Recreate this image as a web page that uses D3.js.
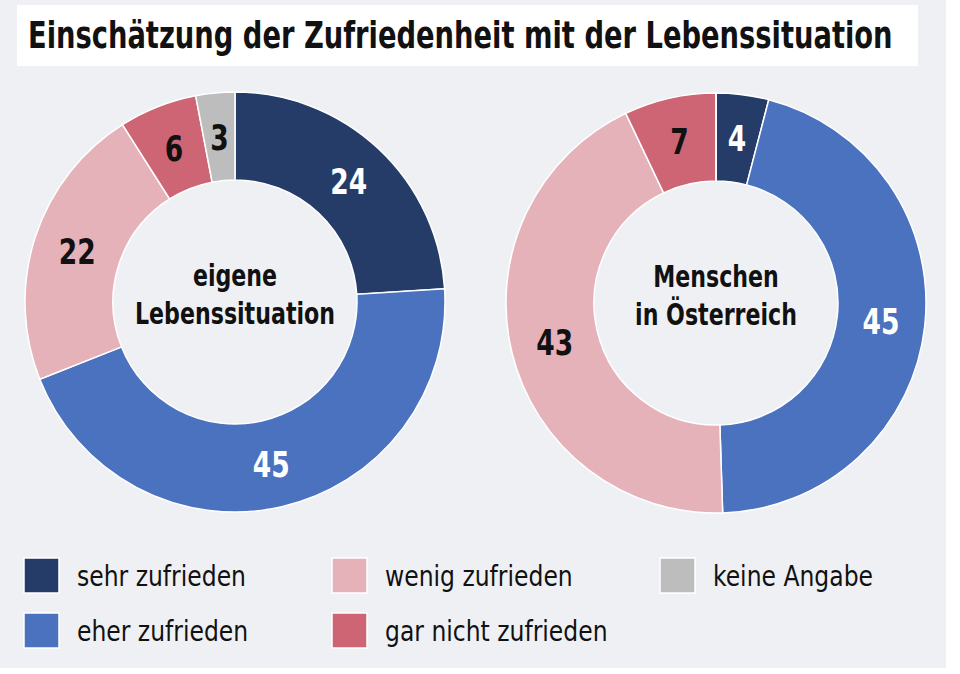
<!DOCTYPE html>
<html>
<head>
<meta charset="utf-8">
<script src="https://cdn.jsdelivr.net/npm/d3@7"></script>
<style>
  body { margin: 0; background: #ffffff; }
  svg { display: block; }
  text { font-family: "DejaVu Sans Condensed", "Liberation Sans Narrow", "Roboto", sans-serif; }
</style>
</head>
<body>
<svg id="chart" width="960" height="674"></svg>
<script>
// Categories (legend order = slice order, clockwise from top)
var categories = ['sehr zufrieden', 'eher zufrieden', 'wenig zufrieden', 'gar nicht zufrieden', 'keine Angabe'];
var colors = ['#263c68', '#4a72bf', '#e6b2ba', '#cd6575', '#bdbdbd'];
var labelColors = ['#ffffff', '#ffffff', '#111111', '#111111', '#111111'];

// Values in percent
var ownValues = [24, 45, 22, 6, 3];
var austriaValues = [4, 45, 43, 7, 0];

var donutTitles = [['eigene', 'Lebenssituation'], ['Menschen', 'in Österreich']];
var title = 'Einschätzung der Zufriedenheit mit der Lebenssituation';

var svg = d3.select('#chart');

// background
svg.append('rect')
  .attr('x', 0).attr('y', 0)
  .attr('width', 946).attr('height', 668)
  .attr('fill', '#eff0f4');

// title box
svg.append('rect')
  .attr('x', 17).attr('y', 5)
  .attr('width', 901).attr('height', 61)
  .attr('fill', '#ffffff');

// the reference uses a narrow typeface, so the title is squeezed to its width
var titleG = svg.append('g');
var titleText = titleG.append('text')
  .attr('font-size', 38)
  .attr('font-weight', 'bold')
  .attr('fill', '#111')
  .text(title);
var titleScale = 865 / titleText.node().getComputedTextLength();
titleG.attr('transform', 'translate(28,48) scale(' + titleScale + ',1)');

var colorScale = d3.scaleOrdinal().domain(categories).range(colors);
var labelScale = d3.scaleOrdinal().domain(categories).range(labelColors);

var pie = d3.pie().sort(null).value(function(d) { return d.value; });
var outerR = 210, innerR = 122;
var arc = d3.arc().innerRadius(innerR).outerRadius(outerR);
var labelArc = d3.arc().innerRadius(166).outerRadius(166);

function drawDonut(values, cx, cy, lines) {
  var data = categories.map(function(c, i) { return {cat: c, value: values[i]}; });
  var g = svg.append('g').attr('transform', 'translate(' + cx + ',' + cy + ')');

  g.selectAll('path.slice')
    .data(pie(data))
    .enter().append('path')
    .attr('class', 'slice')
    .attr('d', arc)
    .attr('fill', function(d) { return colorScale(d.data.cat); })
    .attr('stroke', '#ffffff')
    .attr('stroke-width', 1.5);

  g.selectAll('text.val')
    .data(pie(data).filter(function(d) { return d.data.value > 0; }))
    .enter().append('text')
    .attr('class', 'val')
    .attr('transform', function(d) { return 'translate(' + labelArc.centroid(d) + ') scale(0.82,1)'; })
    .attr('text-anchor', 'middle')
    .attr('dy', '0.36em')
    .attr('font-size', 36)
    .attr('font-weight', 'bold')
    .attr('fill', function(d) { return labelScale(d.data.cat); })
    .text(function(d) { return d.data.value; });

  g.selectAll('text.center')
    .data(lines)
    .enter().append('text')
    .attr('class', 'center')
    .attr('transform', function(d, i) { return 'translate(0,' + (-27 + i * 38) + ') scale(0.82,1)'; })
    .attr('text-anchor', 'middle')
    .attr('dy', '0.36em')
    .attr('font-size', 30)
    .attr('font-weight', 'bold')
    .attr('fill', '#111')
    .text(function(d) { return d; });
}

drawDonut(ownValues, 235, 302, donutTitles[0]);
drawDonut(austriaValues, 716, 303, donutTitles[1]);

// legend
var legendCols = [24, 332, 660];
var legendRows = [558, 613];
var legendPos = [[0, 0], [0, 1], [1, 0], [1, 1], [2, 0]];

var legend = svg.append('g');
var items = legend.selectAll('g.item')
  .data(categories)
  .enter().append('g')
  .attr('class', 'item')
  .attr('transform', function(d, i) {
    return 'translate(' + legendCols[legendPos[i][0]] + ',' + legendRows[legendPos[i][1]] + ')';
  });

items.append('rect')
  .attr('width', 35).attr('height', 35)
  .attr('fill', function(d) { return colorScale(d); })
  .attr('stroke', '#ffffff')
  .attr('stroke-width', 1.5);

items.append('text')
  .attr('transform', 'translate(53,18) scale(0.9,1)')
  .attr('dy', '0.36em')
  .attr('font-size', 29)
  .attr('fill', '#111')
  .text(function(d) { return d; });
</script>
</body>
</html>
